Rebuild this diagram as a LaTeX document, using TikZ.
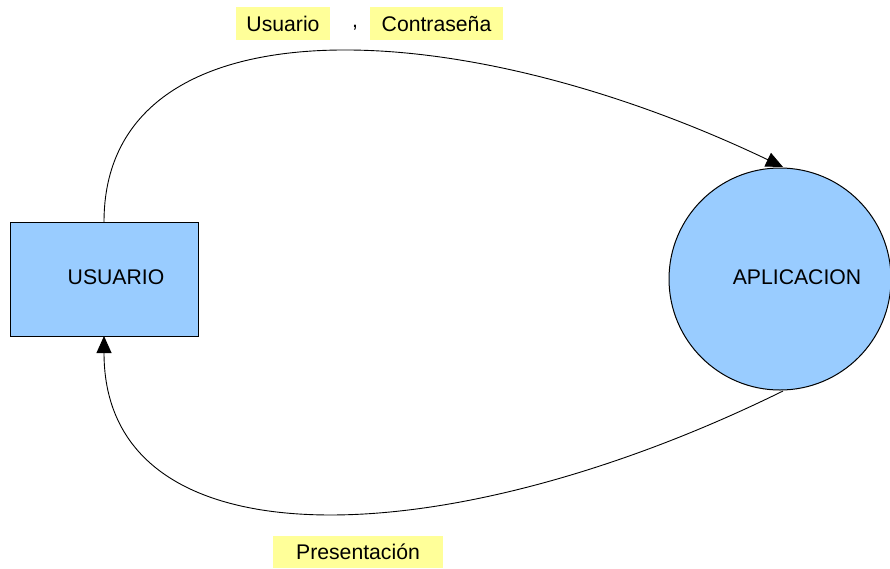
\documentclass[tikz,border=0pt]{standalone}
\usepackage{fontspec}
\setmainfont{Liberation Sans}
\usetikzlibrary{arrows.meta}
\definecolor{entityblue}{HTML}{99CCFF}
\definecolor{labelyellow}{HTML}{FFFF99}
\begin{document}
\begin{tikzpicture}[x=1pt,y=-1pt,
  every node/.style={font=\fontsize{21.2}{24}\selectfont},
  entity/.style={draw=black,line width=1pt,fill=entityblue,inner sep=0pt},
  flowlabel/.style={fill=labelyellow,inner sep=0pt,minimum height=33pt},
  flow/.style={line width=0.9pt,-{Triangle[width=15pt,length=17pt]}}]
  \useasboundingbox (0,0) rectangle (890,568);

  % external entity and process
  \node[entity,minimum width=188pt,minimum height=114pt] (usuario) at (104,279) {};
  \node at (116,277) {USUARIO};
  \node[entity,circle,minimum size=222pt] (app) at (780,279) {};
  \node at (797,277) {APLICACION};

  % data flows
  \coordinate (outA) at (104,222);
  \coordinate (inA) at (783,167);
  \coordinate (outB) at (783,391);
  \coordinate (inB) at (104,336);
  \draw[flow] (outA) .. controls (104,0) and (450,8) .. (inA);
  \draw[flow] (outB) .. controls (450,555) and (104,570) .. (inB);

  % flow labels
  \node[flowlabel,minimum width=94pt] (lblUser) at (283,23.5) {Usuario};
  \node (comma) at (355,28) {,};
  \node[flowlabel,minimum width=133pt] (lblPass) at (436.5,23.5) {Contraseña};
  \node[flowlabel,minimum width=170pt,minimum height=32pt] (lblPres) at (358,552) {Presentación};
\end{tikzpicture}
\end{document}
